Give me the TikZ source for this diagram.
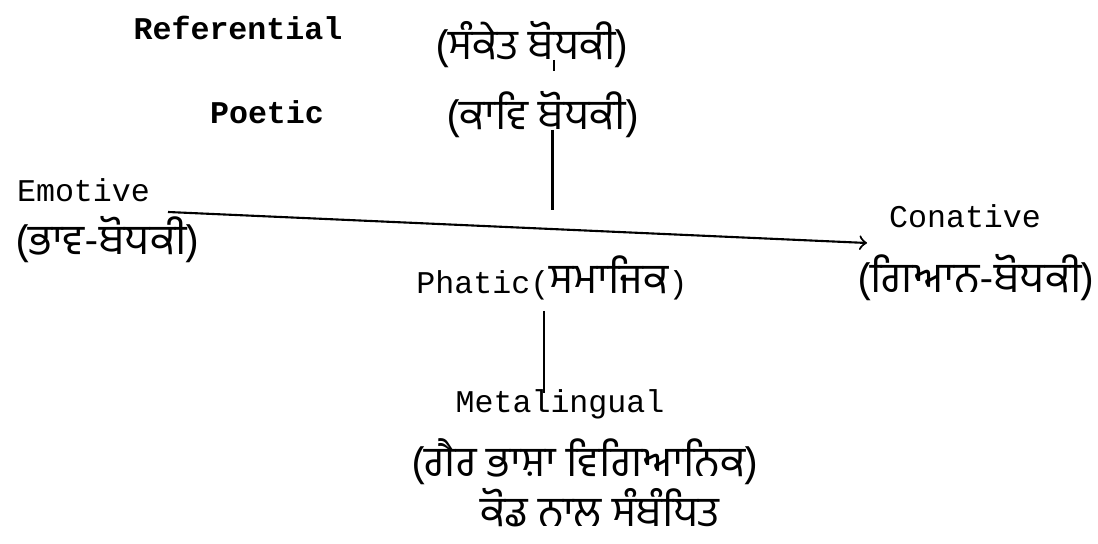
\documentclass[tikz,border=0pt]{standalone}
\usepackage{fontspec}
\setmonofont{Liberation Mono}
\newfontfamily\gurfont[Script=Gurmukhi]{Hind Jalandhar}
\usepackage{tikz}
\usetikzlibrary{arrows, positioning}

\tikzset{
    lat/.style={font=\ttfamily\fontsize{9}{11}\selectfont, inner sep=0pt},
    latb/.style={font=\ttfamily\bfseries\fontsize{9}{11}\selectfont, inner sep=0pt},
    gur/.style={font=\gurfont\fontsize{12}{14}\selectfont, inner sep=0pt}
}

\begin{document}
\begin{tikzpicture}[>=to, line width=0.6pt]
    \useasboundingbox (0,0) rectangle (10.98,5.43);
    % Noduri
    \node[latb] (ref) at (2.38, 5.15) {Referential};
    \node[gur] (refg) at (5.32, 4.98) {(ਸੰਕੇਤ ਬੋਧਕੀ)};
    \node[latb] (poe) at (2.67, 4.31) {Poetic};
    \node[gur] (poeg) at (5.43, 4.28) {(ਕਾਵਿ ਬੋਧਕੀ)};
    \node[lat, anchor=west] (emo) at (0.16, 3.53) {Emotive};
    \node[gur, anchor=west] (emog) at (0.14, 3.03) {(ਭਾਵ-ਬੋਧਕੀ)};
    \node[lat] (con) at (9.65, 3.27) {Conative};
    \node[gur] (cong) at (9.76, 2.65) {(ਗਿਆਨ-ਬੋਧਕੀ)};
    \node[lat] (pha) at (5.52, 2.65) {Phatic({\gurfont\fontsize{12}{14}\selectfont ਸਮਾਜਿਕ})};
    \node[lat] (meta) at (5.60, 1.39) {Metalingual};
    \node[gur] (metag) at (5.85, 0.81) {(ਗੈਰ ਭਾਸ਼ਾ ਵਿਗਿਆਨਿਕ)};
    \node[gur] (code) at (6.00, 0.35) {ਕੋਡ ਨਾਲ ਸੰਬੰਧਿਤ};

    \coordinate (axisL) at (1.68, 3.31);
    \coordinate (axisR) at (8.67, 3.00);
    \coordinate (tickT) at (5.54, 4.83);
    \coordinate (tickB) at (5.54, 4.68);
    \coordinate (upT) at (5.525, 4.13);
    \coordinate (upB) at (5.525, 3.33);
    \coordinate (loT) at (5.44, 2.32);
    \coordinate (loB) at (5.44, 1.50);

    % Muchii
    \draw[->] (axisL) -- (axisR);
    \draw[line width=0.4pt, dashed] (tickT) -- (tickB);
    \draw (upT) -- (upB);
    \draw (loT) -- (loB);
\end{tikzpicture}
\end{document}
